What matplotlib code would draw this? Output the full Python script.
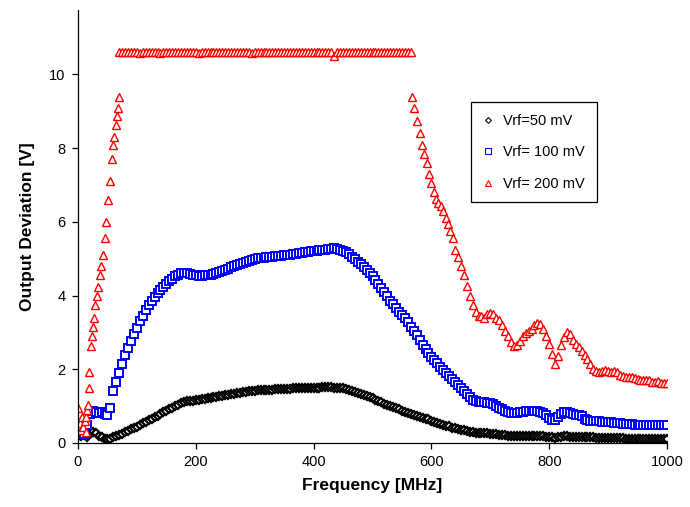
import matplotlib
matplotlib.use("Agg")
import matplotlib.pyplot as plt

plt.rcParams['font.family'] = ['Liberation Sans', 'DejaVu Sans']

# common frequency grid for 50 mV and 100 mV curves (MHz)
freq = list(range(0, 1001, 5))

vrf50 = [
    0.20, 0.18, 0.22, 0.15, 0.28, 0.30, 0.26, 0.20, 0.15, 0.12,
    0.11, 0.12, 0.15, 0.18, 0.21, 0.25, 0.30, 0.33, 0.37, 0.40,
    0.44, 0.48, 0.53, 0.57, 0.62, 0.66, 0.70, 0.74, 0.79, 0.83,
    0.88, 0.92, 0.96, 1.00, 1.04, 1.08, 1.11, 1.13, 1.14, 1.15,
    1.16, 1.17, 1.19, 1.20, 1.21, 1.23, 1.24, 1.26, 1.27, 1.28,
    1.30, 1.31, 1.33, 1.34, 1.35, 1.37, 1.38, 1.39, 1.40, 1.41,
    1.42, 1.43, 1.43, 1.44, 1.44, 1.45, 1.45, 1.46, 1.46, 1.46,
    1.47, 1.47, 1.47, 1.48, 1.48, 1.48, 1.48, 1.49, 1.49, 1.49,
    1.50, 1.50, 1.50, 1.51, 1.51, 1.51, 1.51, 1.50, 1.50, 1.49,
    1.48, 1.46, 1.44, 1.42, 1.39, 1.37, 1.34, 1.31, 1.28, 1.24,
    1.21, 1.18, 1.14, 1.11, 1.07, 1.04, 1.00, 0.97, 0.94, 0.91,
    0.88, 0.85, 0.82, 0.79, 0.76, 0.73, 0.71, 0.69, 0.66, 0.64,
    0.61, 0.58, 0.55, 0.52, 0.50, 0.47, 0.45, 0.42, 0.40, 0.38,
    0.36, 0.34, 0.32, 0.30, 0.29, 0.28, 0.27, 0.26, 0.26, 0.26,
    0.25, 0.25, 0.24, 0.23, 0.22, 0.21, 0.20, 0.19, 0.19, 0.18,
    0.18, 0.18, 0.18, 0.18, 0.18, 0.18, 0.19, 0.20, 0.19, 0.17,
    0.16, 0.15, 0.14, 0.15, 0.17, 0.18, 0.18, 0.17, 0.17, 0.16,
    0.16, 0.16, 0.15, 0.15, 0.15, 0.15, 0.14, 0.14, 0.14, 0.14,
    0.14, 0.13, 0.13, 0.13, 0.13, 0.13, 0.12, 0.12, 0.12, 0.12,
    0.12, 0.11, 0.11, 0.11, 0.11, 0.10, 0.10, 0.10, 0.10, 0.10,
    0.10,
]

vrf100 = [
    0.35, 0.45, 0.25, 0.50, 0.80, 0.88, 0.85, 0.82, 0.85, 0.80,
    0.75, 0.95, 1.40, 1.65, 1.90, 2.15, 2.38, 2.58, 2.78, 2.96,
    3.13, 3.30, 3.45, 3.60, 3.74, 3.86, 3.96, 4.06, 4.15, 4.24,
    4.32, 4.40, 4.46, 4.52, 4.57, 4.60, 4.60, 4.60, 4.58, 4.56,
    4.55, 4.54, 4.54, 4.55, 4.56, 4.57, 4.59, 4.61, 4.63, 4.66,
    4.70, 4.73, 4.77, 4.80, 4.83, 4.86, 4.89, 4.92, 4.95, 4.97,
    4.99, 5.01, 5.02, 5.03, 5.04, 5.05, 5.06, 5.07, 5.08, 5.08,
    5.09, 5.10, 5.11, 5.12, 5.14, 5.15, 5.16, 5.17, 5.19, 5.20,
    5.21, 5.22, 5.23, 5.24, 5.25, 5.26, 5.27, 5.28, 5.27, 5.25,
    5.22, 5.18, 5.13, 5.06, 4.98, 4.92, 4.86, 4.78, 4.70, 4.62,
    4.52, 4.42, 4.32, 4.21, 4.10, 3.98, 3.86, 3.76, 3.66, 3.56,
    3.48, 3.38, 3.28, 3.16, 3.04, 2.92, 2.80, 2.67, 2.55, 2.44,
    2.34, 2.25, 2.16, 2.07, 1.99, 1.90, 1.82, 1.74, 1.66, 1.58,
    1.50, 1.41, 1.32, 1.24, 1.18, 1.14, 1.12, 1.11, 1.10, 1.09,
    1.08, 1.05, 1.01, 0.96, 0.92, 0.87, 0.83, 0.81, 0.81, 0.82,
    0.84, 0.85, 0.86, 0.87, 0.88, 0.88, 0.87, 0.85, 0.82, 0.76,
    0.68, 0.63, 0.62, 0.70, 0.80, 0.83, 0.83, 0.81, 0.78, 0.76,
    0.75, 0.72, 0.66, 0.63, 0.61, 0.60, 0.59, 0.59, 0.58, 0.58,
    0.57, 0.56, 0.55, 0.54, 0.53, 0.52, 0.52, 0.51, 0.51, 0.50,
    0.50, 0.49, 0.49, 0.49, 0.48, 0.48, 0.48, 0.48, 0.48, 0.48,
    0.48,
]

# 200 mV: rising edge, saturated plateau, falling part
rise_freq = [0, 3, 5, 6, 9, 12, 13, 14, 16, 17, 18, 19, 22, 24, 26, 27, 29,
             32, 34, 37, 39, 42, 45, 48, 51, 54, 57, 59, 61, 64, 66, 68, 70]
rise_vals = [0.95, 0.54, 0.35, 0.70, 0.44, 0.60, 0.70, 0.30, 0.90, 1.03,
             1.50, 1.93, 2.63, 2.90, 3.14, 3.38, 3.74, 3.98, 4.23, 4.55,
             4.80, 5.10, 5.55, 6.00, 6.60, 7.10, 7.72, 8.08, 8.30, 8.64,
             8.86, 9.10, 9.38]

plateau_freq = list(range(70, 566, 5))
plateau_vals = [
    10.6,
    10.6, 10.62, 10.6, 10.6, 10.62, 10.6, 10.58, 10.6, 10.6, 10.62,
    10.6, 10.6, 10.6, 10.58, 10.6, 10.62, 10.6, 10.6, 10.6, 10.6,
    10.6, 10.6, 10.62, 10.6, 10.6, 10.6, 10.58, 10.6, 10.6, 10.6,
    10.6, 10.6, 10.6, 10.6, 10.6, 10.62, 10.6, 10.6, 10.6, 10.6,
    10.6, 10.6, 10.6, 10.6, 10.58, 10.6, 10.6, 10.6, 10.6, 10.6,
    10.6, 10.6, 10.6, 10.6, 10.62, 10.6, 10.6, 10.6, 10.6, 10.6,
    10.6, 10.6, 10.6, 10.6, 10.6, 10.6, 10.6, 10.6, 10.6, 10.6,
    10.6, 10.6, 10.5, 10.6, 10.6, 10.6, 10.6, 10.6, 10.6, 10.6,
    10.6, 10.6, 10.6, 10.6, 10.6, 10.6, 10.6, 10.6, 10.6, 10.6,
    10.6, 10.6, 10.6, 10.6, 10.6, 10.6, 10.6, 10.6, 10.6,
]

fall_freq = [567, 570, 575, 580, 584, 588, 592, 596, 600, 604, 608, 612,
             616, 620, 624, 628, 632, 636, 640] + list(range(645, 1001, 5))
fall_vals = [
    9.38, 9.10, 8.75, 8.40, 8.10, 7.85, 7.60, 7.30, 7.05, 6.80,
    6.62, 6.52, 6.44, 6.30, 6.10, 5.95, 5.75, 5.55, 5.25,
    5.05, 4.80, 4.55, 4.25, 4.00, 3.75, 3.55, 3.45, 3.45, 3.40,
    3.50, 3.52, 3.50, 3.40, 3.33, 3.20, 3.05, 2.90, 2.75, 2.62,
    2.65, 2.78, 2.90, 2.98, 3.05, 3.10, 3.20, 3.25, 3.22, 3.10,
    2.90, 2.70, 2.42, 2.15, 2.35, 2.65, 2.88, 3.00, 2.95, 2.80,
    2.70, 2.60, 2.50, 2.38, 2.28, 2.15, 2.02, 1.95, 1.92, 1.95,
    1.98, 1.96, 1.93, 1.95, 1.92, 1.85, 1.82, 1.80, 1.78, 1.80,
    1.76, 1.75, 1.72, 1.70, 1.70, 1.72, 1.66, 1.65, 1.68, 1.62,
    1.62, 1.62,
]

freq200 = rise_freq + plateau_freq + fall_freq
vrf200 = rise_vals + plateau_vals + fall_vals

fig = plt.figure(figsize=(6.9, 5.07), dpi=100)
ax = fig.add_axes([78 / 690, 1 - 443 / 507, 589 / 690, 433 / 507])

ax.plot(freq, vrf50, linestyle='none', marker='D', markersize=4.2,
        markerfacecolor='white', markeredgecolor='black', markeredgewidth=1.6,
        label='Vrf=50 mV')
ax.plot(freq, vrf100, linestyle='none', marker='s', markersize=5.4,
        markerfacecolor='white', markeredgecolor='#0000ff', markeredgewidth=1.4,
        label='Vrf= 100 mV')
ax.plot(freq200, vrf200, linestyle='none', marker='^', markersize=6.0,
        markerfacecolor='white', markeredgecolor='#ff0000', markeredgewidth=1.0,
        label='Vrf= 200 mV')

ax.set_xlim(0, 1000)
ax.set_ylim(0, 11.75)
ax.set_xticks(range(0, 1001, 200))
ax.set_yticks(range(0, 11, 2))
ax.spines['top'].set_visible(False)
ax.spines['right'].set_visible(False)
ax.spines['left'].set_linewidth(0.9)
ax.spines['bottom'].set_linewidth(0.9)
ax.tick_params(direction='out', length=4, width=0.9, labelsize=10.5, pad=5)

ax.set_xlabel('Frequency [MHz]', fontsize=12.5, fontweight='bold', labelpad=6)
ax.set_ylabel('Output Deviation [V]', fontsize=12.5, fontweight='bold', labelpad=10)

leg = ax.legend(loc='upper left', bbox_to_anchor=(471 / 690, 1 - 102 / 507),
                bbox_transform=fig.transFigure, fontsize=10.5, frameon=True,
                fancybox=False, edgecolor='black', framealpha=1,
                handlelength=0.8, handletextpad=0.6, labelspacing=1.2,
                borderpad=0.8, borderaxespad=0, markerscale=0.7)
leg.get_frame().set_linewidth(0.9)
for h in leg.legend_handles:
    h.set_markeredgewidth(0.8)

fig.savefig('out.png', dpi=100)
